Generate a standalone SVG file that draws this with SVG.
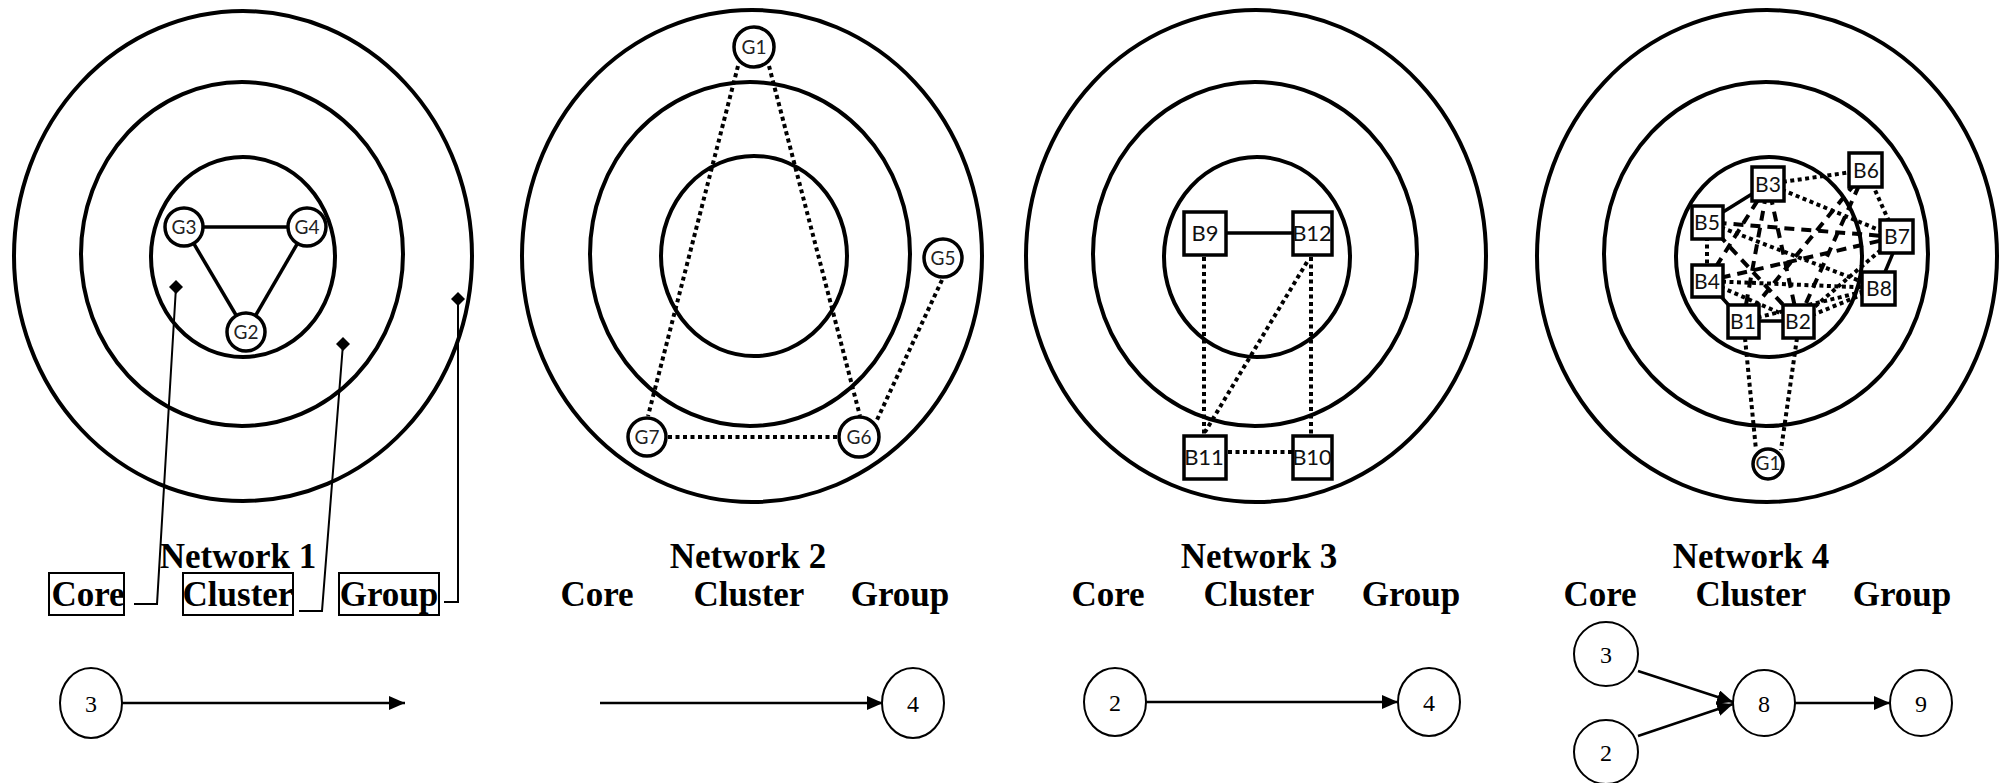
<svg xmlns="http://www.w3.org/2000/svg" width="1999" height="783" viewBox="0 0 1999 783">
<style>
.ring{fill:none;stroke:#000;stroke-width:4}
.node{fill:#fff;stroke:#000;stroke-width:3.5}
.lbl{font-family:"Lato","Open Sans",sans-serif;font-size:19px;text-anchor:middle;fill:#222}
.lblb{font-family:"Lato","Open Sans",sans-serif;font-size:22px;text-anchor:middle;fill:#111}
.lblc{font-family:"Lato","Open Sans",sans-serif;font-size:21px;text-anchor:middle;fill:#111}
.solid{stroke:#000;stroke-width:3.5;fill:none}
.dot{stroke:#000;stroke-width:4;stroke-dasharray:4 3.5;fill:none}
.dash{stroke:#000;stroke-width:4;stroke-dasharray:10 7;fill:none}
.title{font-family:"Liberation Serif","Times New Roman",serif;font-weight:bold;font-size:35px;text-anchor:middle}
.num{font-family:"Liberation Serif","Times New Roman",serif;font-size:24px;text-anchor:middle}
.circ{fill:#fff;stroke:#000;stroke-width:2}
.lead{stroke:#000;stroke-width:2;fill:none}
.box{fill:none;stroke:#000;stroke-width:2}
.arr{stroke:#000;stroke-width:2.5;fill:none;marker-end:url(#ah)}
</style>
<defs>
<marker id="ah" markerUnits="userSpaceOnUse" markerWidth="16" markerHeight="14" refX="16" refY="7" orient="auto">
<path d="M0,0 L16,7 L0,14 z" fill="#000"/>
</marker>
</defs>
<rect width="1999" height="783" fill="#fff"/>

<g id="rings">
<ellipse class="ring" cx="243" cy="256" rx="229" ry="245"/>
<ellipse class="ring" cx="242" cy="254" rx="161" ry="172"/>
<ellipse class="ring" cx="243" cy="257" rx="92" ry="100"/>
<ellipse class="ring" cx="752" cy="256" rx="230" ry="246"/>
<ellipse class="ring" cx="750" cy="254" rx="160" ry="172"/>
<ellipse class="ring" cx="754" cy="256" rx="93" ry="100"/>
<ellipse class="ring" cx="1256" cy="256" rx="230" ry="246"/>
<ellipse class="ring" cx="1255" cy="254" rx="162" ry="172"/>
<ellipse class="ring" cx="1257" cy="257" rx="93" ry="100"/>
<ellipse class="ring" cx="1767" cy="256" rx="230" ry="246"/>
<ellipse class="ring" cx="1766" cy="254" rx="162" ry="172"/>
<ellipse class="ring" cx="1769" cy="257" rx="93" ry="100"/>
</g>

<g id="connectors">
<line class="solid" x1="184" y1="227" x2="307" y2="227"/>
<line class="solid" x1="184" y1="227" x2="246" y2="332"/>
<line class="solid" x1="307" y1="227" x2="246" y2="332"/>
<polyline class="lead" points="176,287 157,604 134,604"/>
<polyline class="lead" points="343,344 322,611 299,611"/>
<polyline class="lead" points="458,299 458,602 444,602"/>
<line class="dot" x1="738" y1="66" x2="648" y2="416"/>
<line class="dot" x1="769" y1="66" x2="860" y2="416"/>
<line class="dot" x1="942" y1="280" x2="876" y2="422"/>
<line class="dot" x1="668" y1="437" x2="839" y2="437"/>
<line class="solid" x1="1226" y1="233" x2="1293" y2="233"/>
<line class="dot" x1="1204" y1="257" x2="1204" y2="434"/>
<line class="dot" x1="1311" y1="257" x2="1311" y2="434"/>
<line class="dot" x1="1307" y1="262" x2="1205" y2="432"/>
<line class="dot" x1="1228" y1="452" x2="1292" y2="452"/>
<line class="solid" x1="1707" y1="222" x2="1768" y2="184"/>
<line class="solid" x1="1707" y1="281" x2="1743" y2="321"/>
<line class="solid" x1="1743" y1="321" x2="1798" y2="321"/>
<line class="solid" x1="1893" y1="253" x2="1885" y2="272"/>
<line class="dot" x1="1768" y1="184" x2="1866" y2="170"/>
<line class="dot" x1="1768" y1="184" x2="1896" y2="237"/>
<line class="dot" x1="1866" y1="170" x2="1896" y2="237"/>
<line class="dot" x1="1707" y1="222" x2="1878" y2="288"/>
<line class="dot" x1="1707" y1="222" x2="1707" y2="281"/>
<line class="dot" x1="1707" y1="281" x2="1798" y2="321"/>
<line class="dot" x1="1743" y1="321" x2="1878" y2="288"/>
<line class="dot" x1="1798" y1="321" x2="1896" y2="237"/>
<line class="dot" x1="1798" y1="321" x2="1878" y2="288"/>
<line class="dot" x1="1707" y1="281" x2="1878" y2="288"/>
<line class="dash" x1="1743" y1="321" x2="1768" y2="184"/>
<line class="dash" x1="1798" y1="321" x2="1768" y2="184"/>
<line class="dash" x1="1707" y1="281" x2="1768" y2="184"/>
<line class="dash" x1="1866" y1="170" x2="1743" y2="321"/>
<line class="dash" x1="1866" y1="170" x2="1798" y2="321"/>
<line class="dash" x1="1896" y1="237" x2="1707" y2="222"/>
<line class="dash" x1="1896" y1="237" x2="1707" y2="281"/>
<line class="dash" x1="1707" y1="222" x2="1798" y2="321"/>
<line class="dot" x1="1745" y1="338" x2="1756" y2="450"/>
<line class="dot" x1="1797" y1="338" x2="1781" y2="450"/>
<line class="arr" x1="122" y1="703" x2="405" y2="703"/>
<line class="arr" x1="600" y1="703" x2="883" y2="703"/>
<line class="arr" x1="1146" y1="702" x2="1398" y2="702"/>
<line class="arr" x1="1638" y1="671" x2="1733" y2="702"/>
<line class="arr" x1="1638" y1="736" x2="1733" y2="704"/>
<line class="arr" x1="1795" y1="703" x2="1890" y2="703"/>
</g>

<g id="n1-G3"><circle class="node" cx="184" cy="227" r="19"/><text class="lbl" x="184" y="234">G3</text></g>
<g id="n1-G4"><circle class="node" cx="307" cy="227" r="19"/><text class="lbl" x="307" y="234">G4</text></g>
<g id="n1-G2"><circle class="node" cx="246" cy="332" r="19"/><text class="lbl" x="246" y="339">G2</text></g>
<g id="n1-markers">
<polygon points="176,280 183,287 176,294 169,287" fill="#000"/>
<polygon points="343,337 350,344 343,351 336,344" fill="#000"/>
<polygon points="458,292 465,299 458,306 451,299" fill="#000"/>
</g>

<g id="n2-G1"><circle class="node" cx="754" cy="47" r="20"/><text class="lbl" x="754" y="54">G1</text></g>
<g id="n2-G5"><circle class="node" cx="943" cy="258" r="19"/><text class="lbl" x="943" y="265">G5</text></g>
<g id="n2-G7"><circle class="node" cx="647" cy="437" r="19"/><text class="lbl" x="647" y="444">G7</text></g>
<g id="n2-G6"><circle class="node" cx="859" cy="437" r="20"/><text class="lbl" x="859" y="444">G6</text></g>

<g id="n3-B9"><rect class="node" x="1184" y="212" width="42" height="43" stroke-width="4"/><text class="lblb" x="1205" y="241">B9</text></g>
<g id="n3-B12"><rect class="node" x="1293" y="212" width="39" height="43" stroke-width="4"/><text class="lblb" x="1312" y="241">B12</text></g>
<g id="n3-B11"><rect class="node" x="1184" y="436" width="42" height="43" stroke-width="4"/><text class="lblb" x="1204" y="465">B11</text></g>
<g id="n3-B10"><rect class="node" x="1293" y="436" width="39" height="43" stroke-width="4"/><text class="lblb" x="1312" y="465">B10</text></g>

<g id="n4-B3"><rect class="node" x="1752" y="167" width="32" height="34" stroke-width="4"/><text class="lblc" x="1768" y="192">B3</text></g>
<g id="n4-B6"><rect class="node" x="1849" y="153" width="33" height="34" stroke-width="4"/><text class="lblc" x="1866" y="178">B6</text></g>
<g id="n4-B5"><rect class="node" x="1692" y="206" width="31" height="33" stroke-width="4"/><text class="lblc" x="1707" y="230">B5</text></g>
<g id="n4-B7"><rect class="node" x="1880" y="220" width="33" height="33" stroke-width="4"/><text class="lblc" x="1897" y="244">B7</text></g>
<g id="n4-B4"><rect class="node" x="1692" y="265" width="31" height="32" stroke-width="4"/><text class="lblc" x="1707" y="289">B4</text></g>
<g id="n4-B8"><rect class="node" x="1862" y="272" width="33" height="33" stroke-width="4"/><text class="lblc" x="1879" y="296">B8</text></g>
<g id="n4-B1"><rect class="node" x="1728" y="305" width="31" height="33" stroke-width="4"/><text class="lblc" x="1743" y="329">B1</text></g>
<g id="n4-B2"><rect class="node" x="1783" y="305" width="31" height="33" stroke-width="4"/><text class="lblc" x="1798" y="329">B2</text></g>
<g id="n4-G1"><circle class="node" cx="1768" cy="464" r="15"/><text class="lbl" x="1768" y="470" font-size="15">G1</text></g>

<g id="labels">
<text class="title" x="238" y="568">Network 1</text>
<rect class="box" x="49" y="573" width="75" height="42"/>
<text class="title" x="88" y="606">Core</text>
<rect class="box" x="183" y="573" width="110" height="42"/>
<text class="title" x="238" y="606">Cluster</text>
<rect class="box" x="339" y="573" width="100" height="42"/>
<text class="title" x="389" y="606">Group</text>
<text class="title" x="748" y="568">Network 2</text>
<text class="title" x="597" y="606">Core</text>
<text class="title" x="749" y="606">Cluster</text>
<text class="title" x="900" y="606">Group</text>
<text class="title" x="1259" y="568">Network 3</text>
<text class="title" x="1108" y="606">Core</text>
<text class="title" x="1259" y="606">Cluster</text>
<text class="title" x="1411" y="606">Group</text>
<text class="title" x="1751" y="568">Network 4</text>
<text class="title" x="1600" y="606">Core</text>
<text class="title" x="1751" y="606">Cluster</text>
<text class="title" x="1902" y="606">Group</text>
</g>

<g id="c1-3"><ellipse class="circ" cx="91" cy="703" rx="31" ry="35"/><text class="num" x="91" y="712">3</text></g>
<g id="c2-4"><ellipse class="circ" cx="913" cy="703" rx="31" ry="35"/><text class="num" x="913" y="712">4</text></g>
<g id="c3-2"><ellipse class="circ" cx="1115" cy="702" rx="31" ry="34"/><text class="num" x="1115" y="711">2</text></g>
<g id="c3-4"><ellipse class="circ" cx="1429" cy="702" rx="31" ry="34"/><text class="num" x="1429" y="711">4</text></g>
<g id="c4-3"><ellipse class="circ" cx="1606" cy="654" rx="32" ry="32"/><text class="num" x="1606" y="663">3</text></g>
<g id="c4-2"><ellipse class="circ" cx="1606" cy="752" rx="32" ry="32"/><text class="num" x="1606" y="761">2</text></g>
<g id="c4-8"><ellipse class="circ" cx="1764" cy="703" rx="31" ry="33"/><text class="num" x="1764" y="712">8</text></g>
<g id="c4-9"><ellipse class="circ" cx="1921" cy="703" rx="31" ry="33"/><text class="num" x="1921" y="712">9</text></g>
</svg>
